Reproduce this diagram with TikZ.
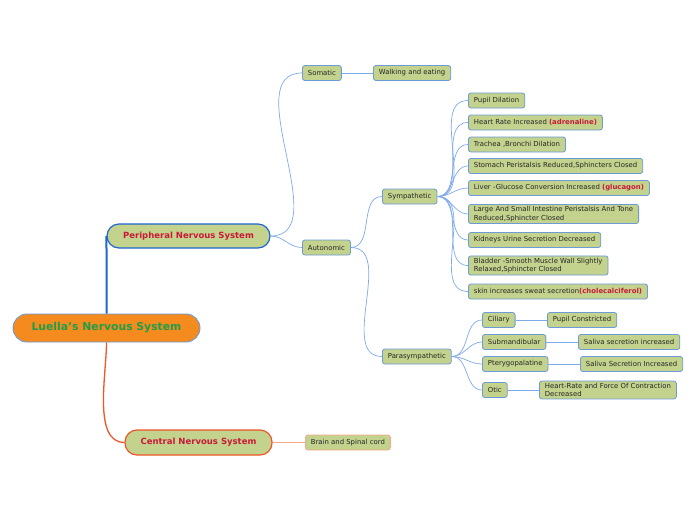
\documentclass[tikz,border=0pt]{standalone}
\usepackage{fontspec}
\setmainfont{DejaVu Sans}
\definecolor{foglia}{HTML}{C3D28C}
\definecolor{bordo}{HTML}{6C9BD6}
\definecolor{ramo}{HTML}{7FAAEA}
\definecolor{blu}{HTML}{1F66D1}
\definecolor{arancio}{HTML}{F58B1F}
\definecolor{verde}{HTML}{1E9E4A}
\definecolor{rosso}{HTML}{C8193A}
\definecolor{rossoar}{HTML}{EE5528}
\definecolor{salmone}{HTML}{F6A88E}
\newcommand{\evid}[1]{\textcolor{rosso}{\textbf{#1}}}
\tikzset{
  foglia/.style={draw=bordo,fill=foglia,rounded corners=2.5pt,line width=0.8pt,
    minimum height=15pt,inner xsep=5.5pt,inner ysep=2pt,anchor=west,align=left,
    text=black!85,font=\fontsize{6.9}{8.5}\selectfont},
  grande/.style={fill=foglia,rounded corners=12pt,line width=1.2pt,text=rosso,
    font=\fontsize{8.5}{10}\selectfont\bfseries},
  ramo/.style={draw=ramo,line width=0.7pt}
}
\begin{document}
\begin{tikzpicture}[x=1pt,y=1pt]
        \useasboundingbox (0,0) rectangle (696,-520);
        %radice
        \node[draw=bordo,fill=arancio,rounded corners=14pt,line width=0.9pt,minimum width=187pt,
          minimum height=28pt,text=verde,font=\fontsize{10.8}{12}\selectfont\bfseries]
          (root) at (106.5,-328) {Luella's Nervous System};
        \node[grande,draw=blu,minimum width=163pt,minimum height=24pt]
          (peri) at (188.5,-236) {Peripheral Nervous System};
        \node[grande,draw=rossoar,minimum width=147pt,minimum height=25pt]
          (cent) at (198.5,-442.5) {Central Nervous System};
        \draw[blu,line width=2pt] (root.north) -- (root.north|-peri.south) -- (peri.west);
        \draw[rossoar,line width=1.3pt] (root.south) to[out=-90,in=180,looseness=0.8] (cent.west);
        %periferico
        \node[foglia] (soma) at (302,-73) {Somatic};
        \node[foglia] (walk) at (373,-73) {Walking and eating};
        \node[foglia] (auto) at (302,-247.5) {Autonomic};
        \node[foglia] (symp) at (382,-196.5) {Sympathetic};
        \node[foglia] (para) at (382,-356.5) {Parasympathetic};
        \draw[ramo] (peri.east) to[out=0,in=180] (soma.west);
        \draw[ramo] (peri.east) to[out=0,in=180] (auto.west);
        \draw[ramo] (soma.east) -- (walk.west);
        \draw[ramo] (auto.east) to[out=0,in=180] (symp.west);
        \draw[ramo] (auto.east) to[out=0,in=180] (para.west);
        %simpatico
        \node[foglia] (s1) at (468,-100.5) {Pupil Dilation};
        \node[foglia] (s2) at (468,-122.5) {Heart Rate Increased \evid{(adrenaline)}};
        \node[foglia] (s3) at (468,-144.5) {Trachea ,Bronchi Dilation};
        \node[foglia] (s4) at (468,-166) {Stomach Peristalsis Reduced,Sphincters Closed};
        \node[foglia] (s5) at (468,-188) {Liver -Glucose Conversion Increased \evid{(glucagon)}};
        \node[foglia] (s6) at (468,-214) {Large And Small Intestine Peristalsis And Tone\\Reduced,Sphincter Closed};
        \node[foglia] (s7) at (468,-240) {Kidneys Urine Secretion Decreased};
        \node[foglia] (s8) at (468,-265.5) {Bladder -Smooth Muscle Wall Slightly\\Relaxed,Sphincter Closed};
        \node[foglia] (s9) at (468,-291.5) {skin increases sweat secretion\evid{(cholecalciferol)}};
        \foreach \i in {1,...,9}
          \draw[ramo] (symp.east) to[out=0,in=180] (s\i.west);
        %parasimpatico
        \node[foglia] (cil) at (482,-320) {Ciliary};
        \node[foglia] (cilf) at (547,-320) {Pupil Constricted};
        \node[foglia] (sub) at (482,-342) {Submandibular};
        \node[foglia] (subf) at (578,-342) {Saliva secretion increased};
        \node[foglia] (pte) at (482,-364) {Pterygopalatine};
        \node[foglia] (ptef) at (580,-364) {Saliva Secretion Increased};
        \node[foglia] (oti) at (482,-390) {Otic};
        \node[foglia] (otif) at (539,-390) {Heart-Rate and Force Of Contraction\\Decreased};
        \foreach \a/\b in {cil/cilf,sub/subf,pte/ptef,oti/otif}{
          \draw[ramo] (para.east) to[out=0,in=180] (\a.west);
          \draw[ramo] (\a.east) -- (\b.west);
        }
        %centrale
        \node[foglia,draw=salmone] (brain) at (305,-442.5) {Brain and Spinal cord};
        \draw[salmone,line width=1pt] (cent.east) -- (brain.west);
                
    \end{tikzpicture}
\end{document}
